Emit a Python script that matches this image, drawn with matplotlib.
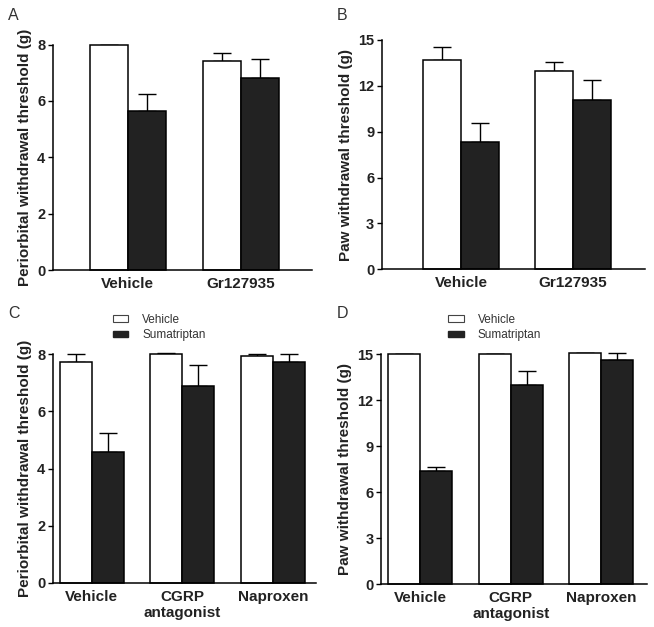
import numpy as np
import matplotlib
matplotlib.use("Agg")
import matplotlib.pyplot as plt
from matplotlib.patches import Patch

plt.rcParams['font.family'] = ['Liberation Sans', 'DejaVu Sans']

# panel A / B: two groups
groups_ab = ["Vehicle", "Gr127935"]
a_vehicle = [8.0, 7.43]
a_vehicle_err = [0.0, 0.27]
a_suma = [5.65, 6.82]
a_suma_err = [0.58, 0.66]

b_vehicle = [13.68, 12.96]
b_vehicle_err = [0.82, 0.61]
b_suma = [8.3, 11.05]
b_suma_err = [1.24, 1.32]

# panel C / D: three groups
groups_cd = ["Vehicle", "CGRP\nantagonist", "Naproxen"]
c_vehicle = [7.74, 8.0, 7.95]
c_vehicle_err = [0.27, 0.03, 0.06]
c_suma = [4.58, 6.88, 7.74]
c_suma_err = [0.65, 0.73, 0.27]

d_vehicle = [15.0, 15.0, 15.07]
d_vehicle_err = [0.0, 0.0, 0.0]
d_suma = [7.39, 12.96, 14.59]
d_suma_err = [0.28, 0.93, 0.48]

ticks_8 = [0, 2, 4, 6, 8]
ticks_15 = [0, 3, 6, 9, 12, 15]

DARK = "#222222"


def draw_panel(ax, groups, veh, veh_err, sum_, sum_err, yticks, ylabel, width, xlim):
    x = np.arange(len(groups))
    for vals, errs, offs, col in [(veh, veh_err, -width / 2, "white"),
                                  (sum_, sum_err, width / 2, DARK)]:
        ax.bar(x + offs, vals, width, color=col, edgecolor="black",
               linewidth=1.1, clip_on=False, zorder=2)
        ax.errorbar(x + offs, vals, yerr=[np.zeros(len(vals)), errs],
                    fmt="none", ecolor="black", elinewidth=1.0,
                    capsize=6.5, capthick=1.0, clip_on=False, zorder=1)
    ax.set_xlim(*xlim)
    ax.set_ylim(0, yticks[-1])
    ax.set_yticks(yticks)
    ax.set_xticks(x)
    ax.set_xticklabels(groups, fontsize=11, fontweight="bold", color=DARK,
                       linespacing=1.15)
    ax.tick_params(axis="x", length=0, pad=5)
    ax.tick_params(axis="y", length=3.5, width=1.0, labelsize=10.5, pad=2)
    for lab in ax.get_yticklabels():
        lab.set_fontweight("bold")
        lab.set_color(DARK)
    ax.spines["top"].set_visible(False)
    ax.spines["right"].set_visible(False)
    ax.spines["left"].set_linewidth(1.1)
    ax.spines["bottom"].set_linewidth(1.1)
    ax.set_ylabel(ylabel, fontsize=11, fontweight="bold", color=DARK, labelpad=4)


fig = plt.figure(figsize=(6.54, 6.27), dpi=100)
axA = fig.add_axes([0.081, 0.569, 0.396, 0.360])
axB = fig.add_axes([0.584, 0.5705, 0.402, 0.366])
axC = fig.add_axes([0.081, 0.0702, 0.402, 0.365])
axD = fig.add_axes([0.583, 0.0681, 0.407, 0.367])

draw_panel(axA, groups_ab, a_vehicle, a_vehicle_err, a_suma, a_suma_err,
           ticks_8, "Periorbital withdrawal threshold (g)", 0.336, (-0.66, 1.63))
draw_panel(axB, groups_ab, b_vehicle, b_vehicle_err, b_suma, b_suma_err,
           ticks_15, "Paw withdrawal threshold (g)", 0.34, (-0.705, 1.64))
draw_panel(axC, groups_cd, c_vehicle, c_vehicle_err, c_suma, c_suma_err,
           ticks_8, "Periorbital withdrawal threshold (g)", 0.354, (-0.43, 2.475))
draw_panel(axD, groups_cd, d_vehicle, d_vehicle_err, d_suma, d_suma_err,
           ticks_15, "Paw withdrawal threshold (g)", 0.354, (-0.43, 2.51))

# legends for the lower panels
handles = [Patch(facecolor="white", edgecolor="#444444", linewidth=0.8, label="Vehicle"),
           Patch(facecolor=DARK, edgecolor=DARK, label="Sumatriptan")]
for ax, xa in ((axC, 0.205), (axD, 0.23)):
    ax.legend(handles=handles, loc="lower left", bbox_to_anchor=(xa, 1.03),
              frameon=False, fontsize=8.5, handlelength=1.3, handleheight=0.45,
              labelspacing=0.3, handletextpad=1.2, borderpad=0,
              labelcolor="#333333")

# panel letters
for lab, (px, py) in zip("ABCD", [(8, 8), (337, 8), (8, 306), (337, 306)]):
    fig.text(px / 654, 1 - py / 627, lab, fontsize=11.5, color="#333333",
             ha="left", va="top")

fig.savefig("out.png", dpi=100)
